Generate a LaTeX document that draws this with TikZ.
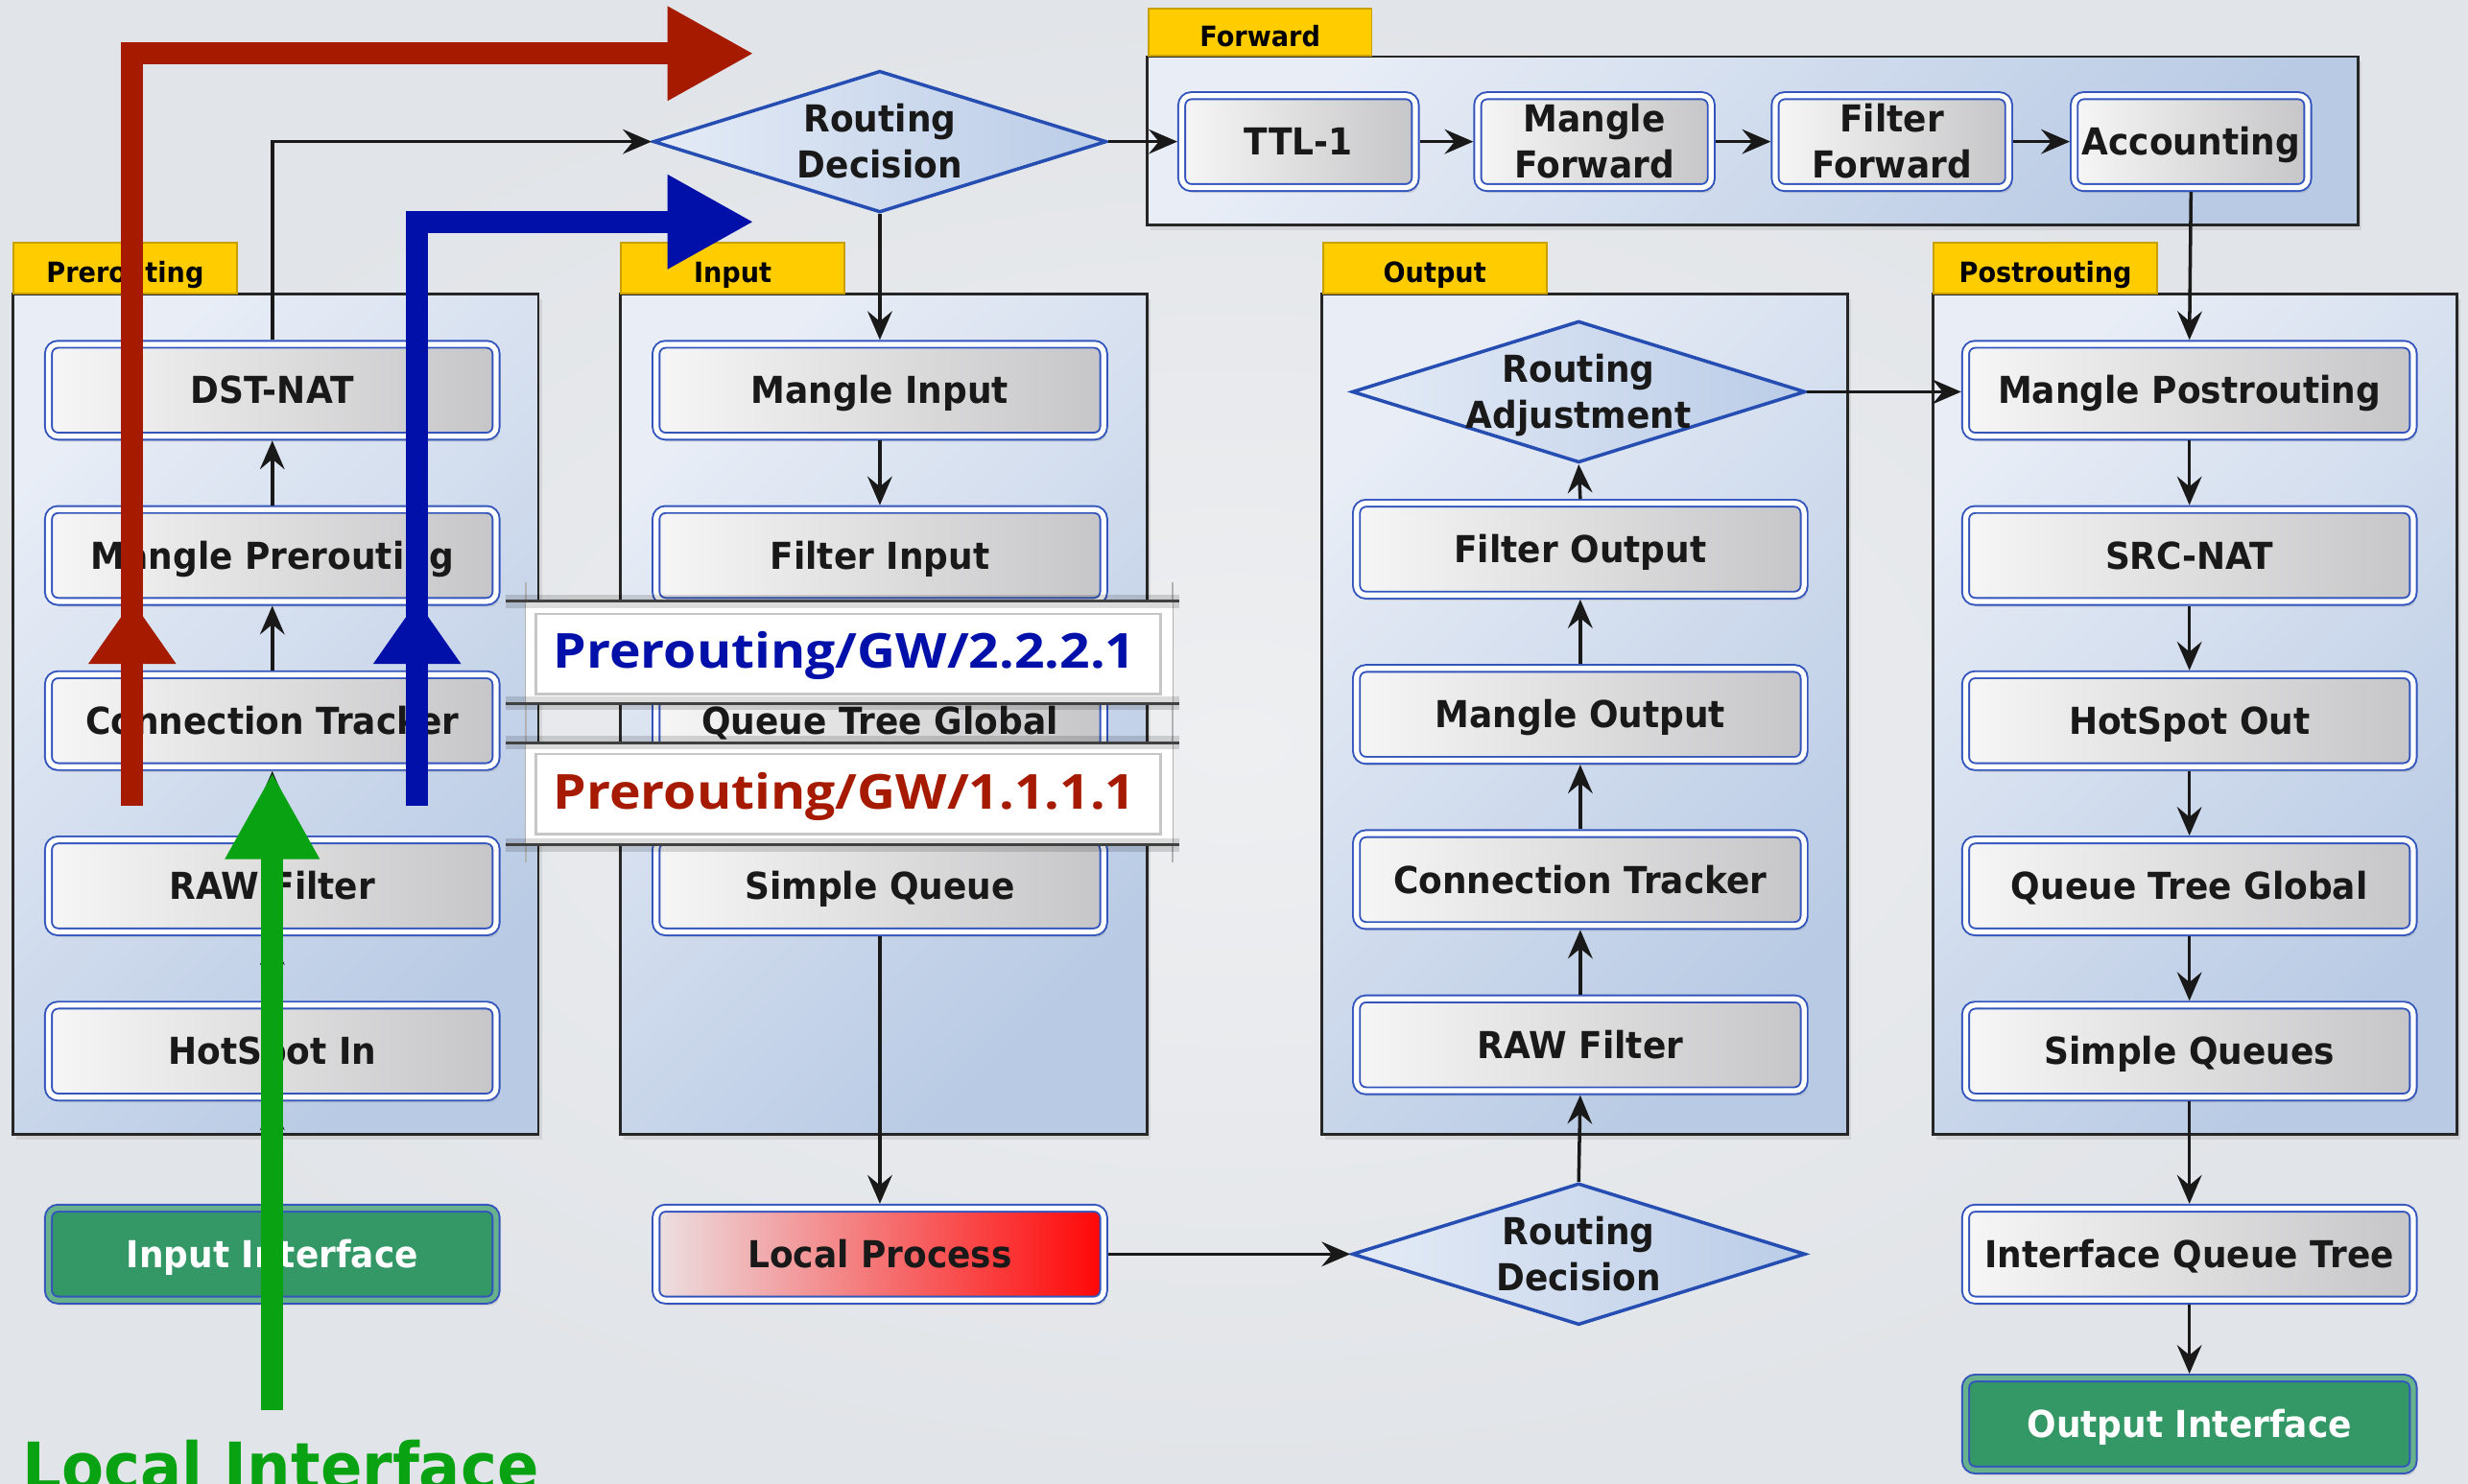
\documentclass[tikz,border=0pt]{standalone}
\usepackage{fontspec}
\setmainfont{DejaVu Sans}[FakeStretch=0.93]
\newfontfamily\gwfont{Open Sans}[FakeStretch=1.1]
\usetikzlibrary{arrows.meta,shapes.geometric,shadows}

\definecolor{bgmid}{RGB}{238,239,241}
\definecolor{bgedge}{RGB}{225,228,232}
\definecolor{panelA}{RGB}{232,237,246}
\definecolor{panelB}{RGB}{184,202,228}
\definecolor{tabfill}{RGB}{255,204,0}
\definecolor{tabline}{RGB}{200,160,0}
\definecolor{boxline}{RGB}{50,84,188}
\definecolor{boxL}{RGB}{246,246,246}
\definecolor{boxR}{RGB}{198,198,200}
\definecolor{ifgreen}{RGB}{52,152,102}
\definecolor{lpL}{RGB}{236,224,226}
\definecolor{lpR}{RGB}{255,6,6}
\definecolor{diaA}{RGB}{228,235,246}
\definecolor{diaB}{RGB}{186,204,231}
\definecolor{diaLine}{RGB}{38,78,178}
\definecolor{pathred}{RGB}{166,26,0}
\definecolor{pathblue}{RGB}{0,16,168}
\definecolor{pathgreen}{RGB}{8,162,18}

\tikzset{
  stagebase/.style={rectangle, rounded corners=2.8pt, draw=boxline, line width=0.55pt,
    double=white, double distance=1.5pt,
    minimum width=4.665cm, minimum height=0.958cm, inner sep=0pt, outer sep=1.3pt,
    font=\bfseries\fontsize{11}{13.8}\selectfont, text=black!90, align=center,
    text height=8pt, text depth=0pt,
    drop shadow={opacity=0.22, shadow xshift=0.9pt, shadow yshift=-1.6pt}},
  stage/.style={stagebase, left color=boxL, right color=boxR},
  fwstage/.style={stage, minimum width=2.434cm},
  twoline/.style={text height=21.8pt, text depth=0pt},
  iface/.style={stagebase, fill=ifgreen, double=ifgreen!75!white, text=white},
  localproc/.style={stagebase, left color=lpL, right color=lpR},
  decision/.style={diamond, aspect=3.2, draw=diaLine, line width=1pt,
    left color=diaA, right color=diaB, minimum width=4.724cm, minimum height=1.476cm,
    inner sep=0pt, outer sep=0.5pt, text width=0.4cm, align=center,
    font=\bfseries\fontsize{11}{13.8}\selectfont, text=black!90,
    text height=8pt, text depth=13.8pt},
  panel/.style={draw=black!85, line width=0.8pt, top color=panelA, bottom color=panelB,
    shading angle=45, drop shadow={opacity=0.18, shadow xshift=1pt, shadow yshift=-1.5pt}},
  tab/.style={rectangle, draw=tabline, line width=0.5pt, fill=tabfill, anchor=south west,
    minimum width=2.329cm, minimum height=0.525cm, inner sep=0pt,
    font=\bfseries\fontsize{8.3}{10}\selectfont, text=black, text height=8.4pt, text depth=0pt},
  conn/.style={draw=black!90, line width=1pt, -{Stealth[length=8.5pt 0, width=7.3pt 0, inset=3pt 0]}},
  fatarrow/.style={draw=#1, line width=0.23cm, line join=miter,
    -{Triangle[length=0.902cm 0, width=0.92cm 0]}},
  gwbox/.style={rectangle, fill=white, minimum width=6.742cm, minimum height=1.05cm, inner sep=0pt},
  gwframe/.style={draw=gray!45, line width=0.7pt},
  gwedge/.style={draw=black!75, line width=0.9pt,
    preaction={draw=black, opacity=0.14, line width=4pt}},
  gwside/.style={draw=gray!60, line width=0.5pt},
  gwtext/.style={anchor=base, inner sep=0pt, font=\gwfont\bfseries\fontsize{14.3}{16}\selectfont}
}

\begin{document}
\begin{tikzpicture}[x=0.016403cm, y=-0.016403cm]
\useasboundingbox (0,0) rectangle (1568,943);

% backdrop
\path[inner color=bgmid, outer color=bgedge] (0,0) rectangle (1568,943);

% chain panels
\path[panel] (8,187) rectangle (342,721);
\path[panel] (394,187) rectangle (729,721);
\path[panel] (729,36) rectangle (1498,143);
\path[panel] (840,187) rectangle (1174,721);
\path[panel] (1228,187) rectangle (1561,721);

\node[tab] (tabpre) at (8,187) {Prerouting};
\node[tab] (tabin) at (394,187) {Input};
\node[tab, minimum height=0.492cm] (tabfw) at (729,36) {Forward};
\node[tab] (tabout) at (840,187) {Output};
\node[tab] (tabpost) at (1228,187) {Postrouting};

% prerouting chain
\node[stage] (dst)  at (173,248) {DST-NAT};
\node[stage] (mpre) at (173,353) {Mangle Prerouting};
\node[stage] (ctp)  at (173,458) {Connection Tracker};
\node[stage] (rawp) at (173,563) {RAW Filter};
\node[stage] (hsin) at (173,668) {HotSpot In};
\node[iface] (iif)  at (173,797) {Input Interface};

% input chain
\node[decision] (rd1) at (559,90) {\makebox[0pt]{Routing}\\\makebox[0pt]{Decision}};
\node[stage] (mi)   at (559,248) {Mangle Input};
\node[stage] (fi)   at (559,353) {Filter Input};
\node[stage] (qtgi) at (559,458) {Queue Tree Global};
\node[stage] (sq)   at (559,563) {Simple Queue};
\node[localproc] (lp) at (559,797) {Local Process};

% forward chain
\node[fwstage] (ttl) at (825,90) {TTL-1};
\node[fwstage, twoline] (mfw) at (1013,90) {Mangle\\Forward};
\node[fwstage, twoline] (ffw) at (1202,90) {Filter\\Forward};
\node[fwstage] (acc) at (1392,90) {Accounting};

% output chain
\node[decision] (ra) at (1003,249) {\makebox[0pt]{Routing}\\\makebox[0pt]{Adjustment}};
\node[stage] (fo)   at (1004,349) {Filter Output};
\node[stage] (mo)   at (1004,454) {Mangle Output};
\node[stage] (cto)  at (1004,559) {Connection Tracker};
\node[stage] (rawo) at (1004,664) {RAW Filter};
\node[decision] (rd2) at (1003,797) {\makebox[0pt]{Routing}\\\makebox[0pt]{Decision}};

% postrouting chain
\node[stage] (mpost)  at (1391,248) {Mangle Postrouting};
\node[stage] (srcnat) at (1391,353) {SRC-NAT};
\node[stage] (hso)    at (1391,458) {HotSpot Out};
\node[stage] (qtgp)   at (1391,563) {Queue Tree Global};
\node[stage] (sqs)    at (1391,668) {Simple Queues};
\node[stage] (iqt)    at (1391,797) {Interface Queue Tree};
\node[iface] (oif)    at (1391,905) {Output Interface};

% packet flow
\draw[conn] (iif.north) -- (hsin.south);
\draw[conn] (hsin.north) -- (rawp.south);
\draw[conn] (rawp.north) -- (ctp.south);
\draw[conn] (ctp.north) -- (mpre.south);
\draw[conn] (mpre.north) -- (dst.south);
\draw[conn] (dst.north) |- (rd1.west);
\draw[conn] (rd1.south) -- (mi.north);
\draw[conn] (rd1.east) -- (ttl.west);
\draw[conn] (ttl.east) -- (mfw.west);
\draw[conn] (mfw.east) -- (ffw.west);
\draw[conn] (ffw.east) -- (acc.west);
\draw[conn] (acc.south) -- (mpost.north);
\draw[conn] (mi.south) -- (fi.north);
\draw[conn] (fi.south) -- (qtgi.north);
\draw[conn] (qtgi.south) -- (sq.north);
\draw[conn] (sq.south) -- (lp.north);
\draw[conn] (lp.east) -- (rd2.west);
\draw[conn] (rd2.north) -- (rawo.south);
\draw[conn] (rawo.north) -- (cto.south);
\draw[conn] (cto.north) -- (mo.south);
\draw[conn] (mo.north) -- (fo.south);
\draw[conn] (fo.north) -- (ra.south);
\draw[conn] (ra.east) -- (ra.east -| mpost.west);
\draw[conn] (mpost.south) -- (srcnat.north);
\draw[conn] (srcnat.south) -- (hso.north);
\draw[conn] (hso.south) -- (qtgp.north);
\draw[conn] (qtgp.south) -- (sqs.north);
\draw[conn] (sqs.south) -- (iqt.north);
\draw[conn] (iqt.south) -- (oif.north);

% highlighted paths
\coordinate (redstart) at (84,512);
\coordinate (redturn) at (84,34);
\coordinate (redend) at (479,34);
\coordinate (bluestart) at (265,512);
\coordinate (blueturn) at (265,141);
\coordinate (blueend) at (479,141);
\coordinate (greenstart) at (173,896);
\coordinate (greenend) at (173,491);

\draw[fatarrow=pathred] (redstart) -- (redturn) -- (redend);
\fill[pathred] (56,422) -- (84,382) -- (112,422) -- cycle;
\draw[fatarrow=pathblue] (bluestart) -- (blueturn) -- (blueend);
\fill[pathblue] (237,422) -- (265,382) -- (293,422) -- cycle;
\draw[fatarrow=pathgreen] (greenstart) -- (greenend);

\node[anchor=base west, inner sep=0pt, text=pathgreen,
  font=\bfseries\fontsize{19.6}{22}\selectfont] (localif) at (14,947) {Local Interface};

% route mark labels
\draw[gwside] (334,370) -- (334,548);
\draw[gwside] (745,370) -- (745,548);
\node[gwbox] (gwblue) at (539.5,414.5) {};
\node[gwbox] (gwred) at (539.5,504.5) {};
\draw[gwframe] ([shift={(7,8)}]gwblue.north west) rectangle ([shift={(-8,-6)}]gwblue.south east);
\draw[gwframe] ([shift={(7,7)}]gwred.north west) rectangle ([shift={(-8,-7)}]gwred.south east);
\draw[gwedge] ([shift={(-12,0)}]gwblue.north west) -- ([shift={(4,0)}]gwblue.north east);
\draw[gwedge] ([shift={(-12,0)}]gwblue.south west) -- ([shift={(4,0)}]gwblue.south east);
\draw[gwedge] ([shift={(-12,0)}]gwred.north west) -- ([shift={(4,0)}]gwred.north east);
\draw[gwedge] ([shift={(-12,0)}]gwred.south west) -- ([shift={(4,0)}]gwred.south east);
\node[gwtext, text=pathblue] (gwbluetext) at (536.5,424.7) {Prerouting/GW/2.2.2.1};
\node[gwtext, text=pathred] (gwredtext) at (536.5,514) {Prerouting/GW/1.1.1.1};
\end{tikzpicture}
\end{document}
